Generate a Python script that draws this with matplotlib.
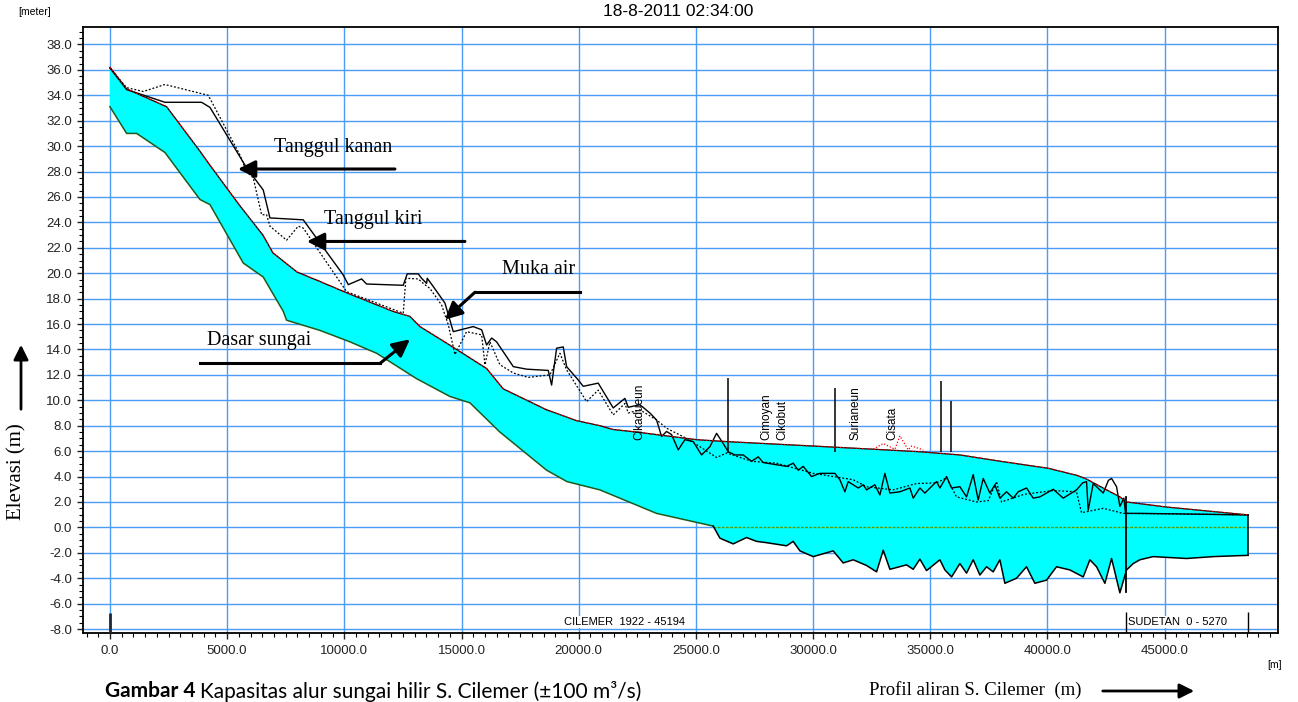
import matplotlib as mpl
mpl.use('Agg')
import matplotlib.pyplot as plt
import numpy as np

mpl.rcParams['font.family'] = ['Liberation Sans', 'DejaVu Sans']

# muka air (water surface), chainage [m] / elevation [m]
wl_x = [0, 712, 2419, 3840, 4266, 5546, 6527, 6954, 7978, 8959, 10111, 12073, 12799,
        13225, 14364, 16070, 16780, 18630, 19909, 20904, 21472, 22469, 25030, 26310,
        30004, 32565, 34556, 36263, 38000, 40030, 41240, 41667, 42520, 43089, 43373,
        45080, 48563]
wl_y = [36.2, 34.5, 33.1, 29.6, 28.5, 25.3, 23.0, 21.6, 20.1, 19.35, 18.45, 17.0, 16.6,
        15.8, 14.5, 12.5, 10.9, 9.25, 8.4, 8.0, 7.7, 7.5, 6.9, 6.75,
        6.4, 6.15, 5.95, 5.7, 5.2, 4.65, 4.1, 3.8, 2.95, 2.4, 2.0,
        1.6, 0.98]

# red dotted bump near Cisata
wl_peak_x = [32565, 32990, 33490, 33703, 34058, 34200, 34697]
wl_peak_y = [6.15, 6.6, 6.15, 7.2, 6.1, 6.4, 6.1]

# dasar sungai (river bed) upstream part
bed_up_x = [0, 712, 1139, 2346, 3840, 4266, 5688, 6540, 7394, 7537, 8959, 10239, 11378,
            13084, 14505, 15358, 16638, 18630, 19500, 20904, 23320, 25740]
bed_up_y = [33.1, 31.0, 31.0, 29.5, 25.8, 25.4, 20.8, 19.7, 17.0, 16.3, 15.5, 14.6, 13.7,
            11.7, 10.3, 9.8, 7.5, 4.5, 3.6, 2.95, 1.1, 0.1]

# dasar sungai downstream part (jagged)
bed_dn_x = [25740, 26024, 26592, 27160, 27586, 28000, 28870, 29150, 29437, 30004, 30858,
            31285, 31712, 32281, 32708, 32992, 33277, 33988, 34272, 34556, 34840, 35410,
            35623, 35908, 36263, 36547, 36831, 37116, 37400, 37685, 37969, 38183, 38680,
            39106, 39462, 39960, 40386, 40956, 41525, 41809, 42094, 42449, 42734, 43089,
            43373, 43657, 43942, 44511, 45933, 47071, 48563]
bed_dn_y = [0.1, -0.85, -1.3, -0.8, -1.1, -1.2, -1.45, -1.1, -1.85, -2.3, -1.85,
            -2.8, -2.55, -3.0, -3.5, -1.8, -3.3, -2.95, -3.3, -2.5, -3.4, -2.55,
            -3.35, -3.9, -2.85, -3.6, -2.55, -3.75, -3.1, -3.5, -2.55, -4.4, -4.0,
            -3.1, -4.4, -4.15, -3.1, -3.35, -3.9, -2.55, -3.1, -4.4, -2.45, -5.15,
            -3.35, -2.85, -2.55, -2.3, -2.45, -2.3, -2.2]

# tanggul (solid)
bank_a_x = [0, 712, 2346, 3911, 4266, 5830, 6540, 6826, 8248, 9940, 10168, 10737, 10950,
            12513, 12684, 13155, 13296, 13510, 13538, 13794, 14293, 14648, 15500, 15858,
            16070, 16284, 16497, 17208, 17776, 18700, 18844, 19057, 19340, 19483, 19980,
            20193, 20832, 21472, 21971, 22113, 22611, 23038, 23322, 23535, 23749, 23962,
            24246, 24531, 24886, 25242, 25597, 25882, 26166, 26380, 26664, 27020, 27375,
            27659, 27872, 28868, 29152, 29365, 29578, 29934, 30290, 30930, 31143, 31356,
            31498, 31925, 32138, 32281, 32636, 32850, 33063, 33276, 33703, 34130, 34272,
            34556, 34770, 35125, 35267, 35410, 35694, 35907, 36263, 36547, 36831, 37044,
            37258, 37542, 37756, 37969, 38253, 38538, 38751, 39107, 39391, 39676, 40245,
            40672, 41240, 41500, 41667, 41738, 41951, 42378, 42600, 42734, 42947, 43089,
            43260, 43330, 44000, 45933, 48563]
bank_a_y = [36.15, 34.45, 33.45, 33.45, 33.05, 28.3, 26.55, 24.35, 24.2, 19.9, 19.1, 19.55, 19.15,
            19.05, 19.95, 19.95, 19.6, 19.2, 19.6, 18.95, 17.65, 15.4, 15.8, 15.55,
            14.35, 14.9, 14.6, 12.65, 12.45, 12.35, 11.2, 14.1, 14.2, 12.65, 11.6,
            11.1, 11.35, 9.4, 10.15, 9.45, 9.65, 9.0, 8.45, 7.15, 7.55, 7.3,
            6.1, 6.9, 6.75, 5.7, 6.35, 7.4, 6.6, 5.95, 5.7, 5.7, 5.2,
            5.55, 5.1, 4.8, 5.05, 4.5, 4.8, 4.0, 4.25, 4.25, 3.75, 2.8,
            3.6, 3.1, 3.35, 2.95, 3.35, 2.55, 4.25, 2.7, 2.8, 3.1, 2.3,
            3.1, 2.7, 3.35, 3.6, 3.1, 4.0, 3.1, 3.2, 2.4, 4.15, 2.15,
            3.85, 2.7, 3.35, 2.3, 2.8, 2.3, 2.8, 3.1, 2.3, 2.4, 3.0,
            2.3, 2.95, 3.5, 3.6, 1.35, 3.45, 2.7, 3.7, 3.85, 3.2, 1.65,
            2.3, 1.1, 1.1, 1.05, 0.98]

# tanggul (dotted)
bank_b_x = [0, 712, 1422, 2346, 4195, 5546, 5830, 6114, 6470, 6684, 6826, 7537, 8034, 8248,
            10097, 12513, 12627, 13155, 13367, 13652, 14150, 14434, 14719, 15216, 15858,
            16000, 16212, 16638, 17207, 17846, 18771, 19198, 19483, 20335, 20832, 21472,
            21971, 22113, 22611, 23322, 23749, 24602, 25171, 25882, 26310, 27375, 28440,
            30004, 31712, 32281, 33419, 34414, 35267, 35694, 36120, 36973, 37472, 37827,
            38040, 39000, 40245, 41240, 41453, 42378, 43230, 45933, 48563]
bank_b_y = [36.15, 34.6, 34.3, 34.85, 34.0, 29.3, 28.0, 27.5, 24.6, 24.6, 23.7, 22.6, 23.7, 23.55,
            18.55, 16.85, 19.6, 19.55, 19.2, 18.8, 17.5, 15.95, 13.6, 15.4, 15.15,
            12.8, 14.6, 12.8, 12.15, 11.8, 12.0, 13.7, 12.4, 9.9, 10.8, 8.85,
            9.75, 9.0, 9.25, 8.45, 7.8, 7.0, 6.35, 5.5, 5.85, 5.2, 5.05,
            4.25, 3.75, 3.2, 2.95, 3.45, 3.5, 3.9, 2.4, 2.0, 2.1, 3.6,
            2.0, 2.6, 2.9, 2.8, 1.15, 1.5, 1.1, 1.05, 0.98]

# structures (vertical markers)
struct_x = [26380, 30930, 35438, 35879]
struct_top = [11.75, 10.95, 11.5, 9.95]
struct_bot = [5.85, 5.95, 5.95, 5.95]

# tributary names
trib_names = ['Cikadueun', 'Cimoyan', 'Cikobut', 'Surianeun', 'Cisata']
trib_x = [22600, 28000, 28700, 31800, 33400]

junction_x = 43330
sudetan_end = 48563

fig = plt.figure(figsize=(12.98, 7.02), dpi=100)
ax = fig.add_axes([0.0639, 0.0976, 0.9206, 0.8644])

grid_c = '#4a9cf5'
ax.set_xlim(-1152, 49830)
ax.set_ylim(-8.35, 39.4)
ax.set_xticks(np.arange(0, 45001, 5000))
ax.set_xticks(np.arange(-1000, 49600, 500), minor=True)
ax.set_yticks(np.arange(-8, 38.1, 2))
ax.set_yticks(np.arange(-8, 39.1, 0.5), minor=True)
ax.set_xticklabels(['%.1f' % v for v in np.arange(0, 45001, 5000)])
ax.set_yticklabels(['%.1f' % v for v in np.arange(-8, 38.1, 2)])
ax.tick_params(which='major', direction='out', length=4.5, width=1, labelsize=9.5, pad=3.5,
               colors='#222222')
ax.tick_params(which='minor', direction='out', length=2.8, width=0.8)
ax.grid(True, which='major', color=grid_c, lw=1.0)
ax.set_axisbelow(True)
for s in ax.spines.values():
  s.set_linewidth(1.3)

# water body
poly_x = np.concatenate([wl_x, bed_dn_x[::-1], bed_up_x[::-1]])
poly_y = np.concatenate([wl_y, bed_dn_y[::-1], bed_up_y[::-1]])
ax.fill(poly_x, poly_y, color='#00ffff', lw=0, zorder=2)

ax.plot([25740, sudetan_end], [0, 0], color='#5c9a00', lw=1, ls=(0, (2, 1)), zorder=3)
ax.plot(bed_up_x, bed_up_y, color='#1e5a1e', lw=1.1, zorder=4)
ax.plot(bed_dn_x, bed_dn_y, color='black', lw=1.1, zorder=4)
ax.plot(bank_b_x, bank_b_y, color='black', lw=0.9, ls=(0, (1.5, 1.5)), zorder=4)
ax.plot(bank_a_x, bank_a_y, color='black', lw=1.0, zorder=5)
ax.plot(wl_x, wl_y, color='black', lw=0.9, zorder=5)
ax.plot(wl_x, wl_y, color='red', lw=0.9, ls=(0, (1, 1.5)), zorder=6)
ax.plot(wl_peak_x, wl_peak_y, color='red', lw=0.9, ls=(0, (1, 1.5)), zorder=6)
ax.plot([sudetan_end, sudetan_end], [wl_y[-1], bed_dn_y[-1]], color='black', lw=1.1, zorder=5)
ax.plot([junction_x, junction_x], [2.4, -5.1], color='black', lw=1.3, zorder=5)
ax.vlines(struct_x, struct_bot, struct_top, color='black', lw=1.1, zorder=5)

for name, xv in zip(trib_names, trib_x):
  ax.text(xv, 6.9, name, rotation=90, ha='center', va='bottom', fontsize=8.5, zorder=6)

# branch labels along the bottom
ax.vlines([0], -8.35, -6.75, color='#1a2a3a', lw=2, zorder=5)
ax.vlines([junction_x, sudetan_end], -8.35, -6.65, color='black', lw=1, zorder=5)
ax.text(21970, -7.45, 'CILEMER  1922 - 45194', ha='center', va='center', fontsize=8,
        bbox=dict(facecolor='white', edgecolor='none', pad=0.5), zorder=6)
ax.text(43450, -7.45, 'SUDETAN  0 - 5270', ha='left', va='center', fontsize=8,
        bbox=dict(facecolor='white', edgecolor='none', pad=0.5), zorder=6)

# annotations
serif = ['Liberation Serif', 'DejaVu Serif']
ap = dict(arrowstyle='-|>', lw=2.2, color='black', mutation_scale=26, shrinkA=0, shrinkB=0)
ax.text(9514, 29.9, 'Tanggul kanan', family=serif, fontsize=14.5, ha='center', va='center', zorder=7)
ax.annotate('', xy=(5461, 28.2), xytext=(12159, 28.2), arrowprops=ap, zorder=7)
ax.text(11220, 24.2, 'Tanggul kiri', family=serif, fontsize=14.5, ha='center', va='center', zorder=7)
ax.annotate('', xy=(8404, 22.5), xytext=(15145, 22.5), arrowprops=ap, zorder=7)
ax.text(18302, 20.3, 'Muka air', family=serif, fontsize=14.5, ha='center', va='center', zorder=7)
ax.plot([20051, 15572], [18.5, 18.5], color='black', lw=2.2, zorder=7)
ax.annotate('', xy=(14292, 16.35), xytext=(15572, 18.5), arrowprops=ap, zorder=7)
ax.text(6357, 14.7, 'Dasar sungai', family=serif, fontsize=14.5, ha='center', va='center', zorder=7)
ax.plot([3840, 11519], [12.9, 12.9], color='black', lw=2.2, zorder=7)
ax.annotate('', xy=(12799, 14.8), xytext=(11519, 12.9), arrowprops=ap, zorder=7)

# figure level texts
W, H = 1298.0, 702.0
fig.text(35 / W, 1 - 12 / H, '[meter]', fontsize=7.5, ha='center', va='center')
fig.text(678 / W, 1 - 12 / H, '18-8-2011 02:34:00', fontsize=12.5, ha='center', va='center')
fig.text(1275 / W, 1 - 665 / H, '[m]', fontsize=7.5, ha='center', va='center')
fig.text(17 / W, 1 - 472 / H, 'Elevasi (m)', family=serif, fontsize=15, rotation=90,
         ha='center', va='center')
fig.text(975 / W, 1 - 690 / H, 'Profil aliran S. Cilemer  (m)', family=serif, fontsize=13.5,
         ha='center', va='center')
fig.patches.append(mpl.patches.FancyArrowPatch((21 / W, 1 - 412 / H), (21 / W, 1 - 342 / H),
                   transform=fig.transFigure, arrowstyle='-|>', lw=2, color='black',
                   mutation_scale=22))
fig.patches.append(mpl.patches.FancyArrowPatch((1100 / W, 1 - 691 / H), (1197 / W, 1 - 691 / H),
                   transform=fig.transFigure, arrowstyle='-|>', lw=2, color='black',
                   mutation_scale=22))

cap_font = ['Lato', 'DejaVu Sans']
t1 = fig.text(105 / W, 1 - 681 / H, 'Gambar 4', family=cap_font, fontsize=15,
              fontweight='bold', ha='left', va='top')
fig.canvas.draw()
bb = t1.get_window_extent()
fig.text((bb.x1 + 5) / fig.bbox.width, 1 - 681 / H,
         'Kapasitas alur sungai hilir S. Cilemer (±100 m³/s)', family=cap_font, fontsize=15,
         ha='left', va='top')

fig.savefig('out.png', dpi=100)
